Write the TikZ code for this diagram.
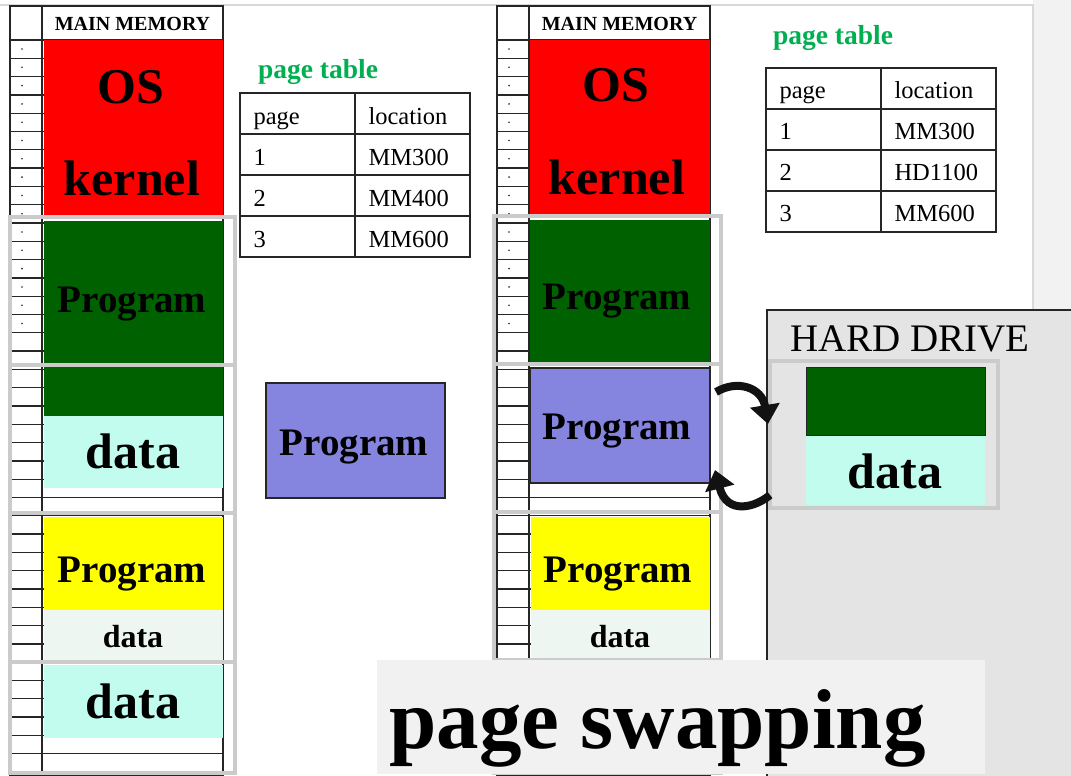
\documentclass[tikz,border=0pt]{standalone}
\usepackage{fontspec}
\setmainfont{Liberation Serif}
\usetikzlibrary{arrows.meta,fit}

\definecolor{osred}{HTML}{FF0000}
\definecolor{progreen}{HTML}{006100}
\definecolor{datacyan}{HTML}{C2FCEE}
\definecolor{swapblue}{HTML}{8585E0}
\definecolor{progyellow}{HTML}{FFFF00}
\definecolor{datapale}{HTML}{EEF6F1}
\definecolor{framegray}{HTML}{CBCBCB}
\definecolor{drivegray}{HTML}{E4E4E4}
\definecolor{titlegray}{HTML}{F1F1F1}
\definecolor{stripgray}{HTML}{F2F2F2}
\definecolor{edgegray}{HTML}{D9D9D9}
\definecolor{tablegreen}{HTML}{00B050}
\definecolor{gridline}{HTML}{262626}

\newcommand\fsz[1]{\fontsize{#1}{#1}\selectfont}

\begin{document}
\begin{tikzpicture}[x=1pt,y=-1pt,
  grid/.style={draw=gridline, line width=1.3pt},
  segframe/.style={draw=framegray, line width=3.5pt},
  block/.style={inner sep=0pt, outer sep=0pt},
  bigword/.style={anchor=base, font=\fsz{50}\bfseries, text=black},
  progword/.style={anchor=base, font=\fsz{39}\bfseries, text=black},
  smallword/.style={anchor=base, font=\fsz{32}\bfseries, text=black},
  headword/.style={anchor=base, font=\fsz{20}\bfseries, text=black},
  tabtitle/.style={anchor=base, font=\fsz{27.5}\bfseries, text=tablegreen},
  cell/.style={anchor=base west, font=\fsz{24.5}, text=black},
  swaparrow/.style={line width=8pt, draw=black!93, -{Triangle[length=19pt,width=29pt]}},
]
\useasboundingbox (0,0) rectangle (1071,776);

% slide background
\fill[white] (0,0) rectangle (1033,776);
\fill[stripgray] (1033,0) rectangle (1071,776);
\draw[edgegray, line width=1.5pt] (0,5) -- (1033,5) -- (1033,310);

% two main-memory columns: row grid
\foreach \ox/\nm in {0/L,487/R}{
  \draw[grid] (10+\ox,6) rectangle (223+\ox,776);
  \draw[grid] (42+\ox,6) -- (42+\ox,776);
  \foreach \k in {0,...,40}
    \draw[grid] (10+\ox,40+18.3*\k) -- (223+\ox,40+18.3*\k);
  \foreach \k in {0,...,15}
    \fill[gridline] (22+\ox,49+18.3*\k) circle (0.9);
  \node[headword] (head\nm) at (132.5+\ox,31) {MAIN MEMORY};
}

% left column contents
\node[block, fill=osred, fit={(44,40) (223,217)}] (osL) {};
\node[block, fill=progreen, fit={(44,221) (223,416)}] (progL) {};
\node[block, fill=datacyan, fit={(44,416) (223,488)}] (dataL) {};
\node[block, fill=progyellow, fit={(44,517) (223,610)}] (progYL) {};
\node[block, fill=datapale, fit={(44,610) (223,660)}] (dataPL) {};
\node[block, fill=datacyan, fit={(44,665) (223,738)}] (dataBL) {};
\node[bigword] (osLt) at (131,103) {OS};
\node[bigword] (kerLt) at (132,195) {kernel};
\node[progword] (progLt) at (132,312) {Program};
\node[bigword] (dataLt) at (133,468) {data};
\node[progword] (progYLt) at (132,582) {Program};
\node[smallword] (dataPLt) at (133,647) {data};
\node[bigword] (dataBLt) at (133,718) {data};

% right column contents
\node[block, fill=osred, fit={(530,40) (710,215)}] (osR) {};
\node[block, fill=progreen, fit={(530,220) (710,362)}] (progR) {};
\node[block, fill=swapblue, draw=gridline, line width=1.2pt, fit={(530,368) (710,483)}] (swapR) {};
\node[block, fill=progyellow, fit={(531,517) (710,610)}] (progYR) {};
\node[block, fill=datapale, fit={(531,610) (710,660)}] (dataPR) {};
\node[bigword] (osRt) at (616,101) {OS};
\node[bigword] (kerRt) at (617,194) {kernel};
\node[progword] (progRt) at (617,309) {Program};
\node[progword] (swapRt) at (617,439) {Program};
\node[progword] (progYRt) at (618,582) {Program};
\node[smallword] (dataPRt) at (620,647) {data};

% segment frames
\foreach \ya/\yb in {217/365,365/513,513/662,662/773}
  \draw[segframe] (10,\ya) rectangle (235,\yb);
\foreach \ya/\yb in {216/364,364/512,512/660,660/773}
  \draw[segframe] (494,\ya) rectangle (721,\yb);

% page table (before swapping)
\node[tabtitle] (titleL) at (318,78) {page table};
\draw[grid] (240,93) rectangle (470,257);
\draw[grid] (355,93) -- (355,257);
\foreach \r in {1,2,3} \draw[grid] (240,93+41*\r) -- (470,93+41*\r);
\node[cell] (tL0a) at (250,124) {page};
\node[cell] (tL0b) at (365,124) {location};
\node[cell] (tL1a) at (250,165) {1};
\node[cell] (tL1b) at (365,165) {MM300};
\node[cell] (tL2a) at (250,206) {2};
\node[cell] (tL2b) at (365,206) {MM400};
\node[cell] (tL3a) at (250,247) {3};
\node[cell] (tL3b) at (365,247) {MM600};

% page table (after swapping)
\node[tabtitle] (titleR) at (833,45) {page table};
\draw[grid] (766,68) rectangle (996,232);
\draw[grid] (881,68) -- (881,232);
\foreach \r in {1,2,3} \draw[grid] (766,68+41*\r) -- (996,68+41*\r);
\node[cell] (tR0a) at (776,98) {page};
\node[cell] (tR0b) at (891,98) {location};
\node[cell] (tR1a) at (776,139) {1};
\node[cell] (tR1b) at (891,139) {MM300};
\node[cell] (tR2a) at (776,180) {2};
\node[cell] (tR2b) at (891,180) {HD1100};
\node[cell] (tR3a) at (776,221) {3};
\node[cell] (tR3b) at (891,221) {MM600};

% incoming program page
\node[block, fill=swapblue, draw=gridline, line width=1.2pt, fit={(266,383) (445,498)}] (progS) {};
\node[progword] (progSt) at (354,455) {Program};

% hard drive
\fill[drivegray] (767,310) rectangle (1071,776);
\draw[gridline, line width=1.2pt] (767,776) -- (767,310) -- (1071,310);
\node[anchor=base, font=\fsz{39}, text=black] (hdTitle) at (910,351) {HARD DRIVE};
\node[block, draw=framegray, line width=3.5pt, fit={(770,361) (998,508)}] (hdSlot) {};
\node[block, fill=progreen, draw=gridline, line width=1pt, fit={(806,367) (985,435)}] (hdProg) {};
\node[block, fill=datacyan, fit={(806,436) (985,505)}] (hdData) {};
\node[bigword] (hdDatat) at (895,488) {data};

% swap arrows
\coordinate (swapOutStart) at (716,392);
\coordinate (swapOutEnd) at (768,424);
\draw[swaparrow] (swapOutStart) .. controls (738,379) and (762,388) .. (swapOutEnd);
\coordinate (swapInStart) at (770,495);
\coordinate (swapInEnd) at (715,470);
\draw[swaparrow] (swapInStart) .. controls (756,507) and (727,516) .. (swapInEnd);

% title
\fill[titlegray] (377,660) rectangle (985,774);
\node[anchor=base, font=\fsz{85}\bfseries, text=black] (title) at (657.5,748) {page swapping};
\end{tikzpicture}
\end{document}
